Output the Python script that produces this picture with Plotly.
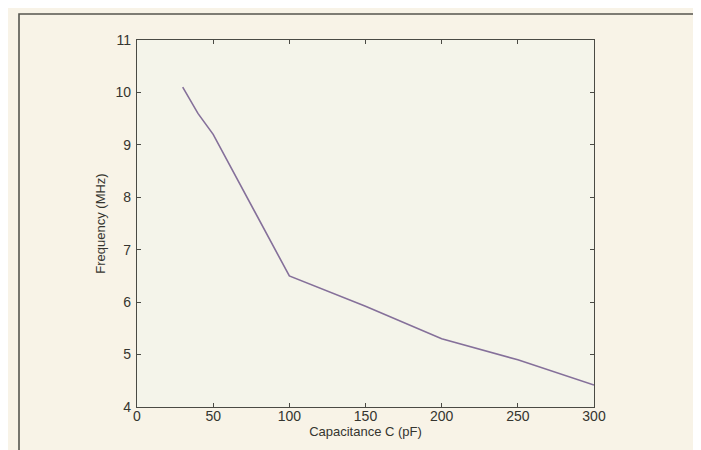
import plotly.graph_objects as go

capacitance_pf = [30, 40, 50, 100, 150, 200, 250, 300]
frequency_mhz = [10.1, 9.6, 9.2, 6.5, 5.92, 5.3, 4.9, 4.42]

x_ticks = [0, 50, 100, 150, 200, 250, 300]
y_ticks = [4, 5, 6, 7, 8, 9, 10, 11]

W, H = 701, 450
L, R, T, B = 129, 115, 32, 51

FONT = "Liberation Sans Narrow, Arial Narrow, Liberation Sans, Arial"
TEXT = "#35352f"

fig = go.Figure()
fig.add_trace(go.Scatter(
    x=capacitance_pf,
    y=frequency_mhz,
    mode="lines",
    line=dict(color="#85709a", width=1.6),
    showlegend=False,
))

axis_style = dict(
    showline=True,
    linecolor="#4a4a44",
    linewidth=1.3,
    mirror="ticks",
    ticks="inside",
    ticklen=4,
    tickcolor="#4a4a44",
    showgrid=False,
    zeroline=False,
    tickfont=dict(family=FONT, size=14, color=TEXT),
)

fig.update_xaxes(
    range=[0, 300],
    tickvals=x_ticks,
    ticklabelstandoff=-4,
    title=dict(text="Capacitance C (pF)", standoff=2,
               font=dict(family="Liberation Sans, Arial", size=13, color=TEXT)),
    **axis_style,
)
fig.update_yaxes(
    range=[4, 11],
    tickvals=y_ticks,
    ticklabelstandoff=2,
    title=dict(text="Frequency (MHz)", standoff=6,
               font=dict(family="Liberation Sans, Arial", size=13, color=TEXT)),
    **axis_style,
)

# outer frame of the scanned figure
fx0 = (11 - L) / (W - L - R)
fx1 = (694 - L) / (W - L - R)
fy0 = 1 - (470 - T) / (H - T - B)
fy1 = 1 - (6 - T) / (H - T - B)
fig.add_shape(type="rect", xref="paper", yref="paper",
              x0=fx0, x1=fx1, y0=fy0, y1=fy1,
              line=dict(color="#55554f", width=1.6), layer="below")

fig.update_layout(
    width=W,
    height=H,
    margin=dict(l=L, r=R, t=T, b=B),
    paper_bgcolor="#f8f3e7",
    plot_bgcolor="#f4f4ea",
)

fig.write_html("out.html")
